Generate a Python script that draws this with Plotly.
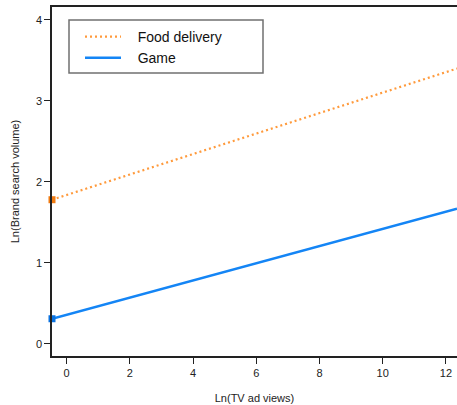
import plotly.graph_objects as go

# Data
x_views = [-0.46, 12.35]
food_delivery = [1.78, 3.40]
game = [0.31, 1.67]
x_ticks = [0, 2, 4, 6, 8, 10, 12]
y_ticks = [0, 1, 2, 3, 4]
series_names = ["\u00a0\u00a0\u00a0Food delivery", "\u00a0\u00a0\u00a0Game"]

fig = go.Figure()
fig.add_trace(go.Scatter(x=x_views, y=food_delivery, mode="lines", name=series_names[0],
                         line=dict(color="#FF9A3C", width=2.2, dash="2px,3px")))
fig.add_trace(go.Scatter(x=x_views, y=game, mode="lines", name=series_names[1],
                         line=dict(color="#1485F5", width=2.6)))
fig.add_trace(go.Scatter(x=x_views[:1], y=food_delivery[:1], mode="markers", showlegend=False,
                         marker=dict(symbol="square", size=7, color="#F07A10"), cliponaxis=False))
fig.add_trace(go.Scatter(x=x_views[:1], y=game[:1], mode="markers", showlegend=False,
                         marker=dict(symbol="square", size=7, color="#0A72E0"), cliponaxis=False))

axis_font = dict(family="Liberation Sans, Arial", size=11, color="#222")
fig.update_xaxes(range=[-0.46, 12.35], tickvals=x_ticks, ticks="outside", ticklen=6, tickwidth=1.3,
                 tickcolor="#222", showline=True, linecolor="#222", linewidth=1.5, mirror=True,
                 showgrid=False, zeroline=False, tickfont=axis_font, automargin=False,
                 title=dict(text="Ln(TV ad views)", font=dict(family="Liberation Sans, Arial", size=11, color="#222"), standoff=16))
fig.update_yaxes(range=[-0.15, 4.16], tickvals=y_ticks, ticks="outside", ticklen=6, tickwidth=1.3,
                 tickcolor="#222", showline=True, linecolor="#222", linewidth=1.5, mirror=False,
                 showgrid=False, zeroline=False, tickfont=axis_font, automargin=False,
                 title=dict(text="Ln(Brand search volume)", font=dict(family="Liberation Sans, Arial", size=11, color="#222"), standoff=14))

fig.add_shape(type="rect", xref="paper", yref="paper",
              x0=(69 - 52) / 405, x1=(263 - 52) / 405,
              y0=1 - (73 - 7) / 349, y1=1 - (20 - 7) / 349,
              line=dict(color="#707070", width=1.5), fillcolor="rgba(0,0,0,0)")

fig.update_layout(width=457, height=405, margin=dict(l=52, r=0, t=7, b=49, autoexpand=False),
                  paper_bgcolor="white", plot_bgcolor="white",
                  legend=dict(x=(80 - 52) / 405, y=1 - (21 - 7) / 349, xanchor="left", yanchor="top",
                              bgcolor="rgba(0,0,0,0)", borderwidth=0, itemwidth=36,
                              font=dict(family="Liberation Sans, Arial", size=14, color="#111"),
                              tracegroupgap=0))
fig.write_html("out.html", config={"displayModeBar": False},
               post_script="document.body.style.margin='0px';document.body.style.overflow='hidden';")
